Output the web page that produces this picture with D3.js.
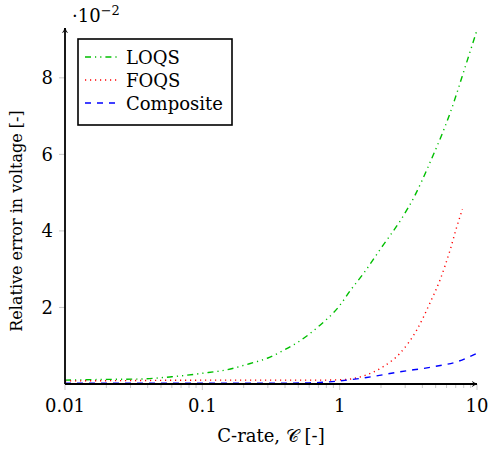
<!DOCTYPE html>
<html>
<head>
<meta charset="utf-8">
<script src="https://cdn.jsdelivr.net/npm/d3@7/dist/d3.min.js"></script>
<style>
  body { margin: 0; background: #fff; }
</style>
</head>
<body>
<div id="chart"></div>
<script>
// values in units of 10^-2
const loqsX = [0.01, 0.02, 0.035, 0.06, 0.1, 0.15, 0.22, 0.3, 0.4, 0.5, 0.7, 1.0, 1.2, 1.5, 2.0, 2.8, 3.5, 4.5, 6.4, 8.4, 10];
const loqsY = [0.10, 0.12, 0.13, 0.19, 0.28, 0.37, 0.53, 0.68, 0.90, 1.10, 1.50, 2.05, 2.45, 2.90, 3.55, 4.30, 4.90, 5.75, 7.10, 8.40, 9.25];
const foqsX = [0.01, 0.03, 0.1, 0.3, 0.7, 1.0, 1.2, 1.57, 2.07, 2.76, 3.64, 4.55, 5.38, 6.37, 7.13, 7.83];
const foqsY = [0.08, 0.09, 0.10, 0.10, 0.10, 0.11, 0.13, 0.24, 0.45, 0.81, 1.41, 2.12, 2.72, 3.50, 4.11, 4.57];
const compX = [0.01, 0.1, 0.3, 0.6, 1.0, 1.57, 2.76, 4.8, 7.13, 10];
const compY = [0.02, 0.02, 0.02, 0.03, 0.08, 0.17, 0.32, 0.45, 0.58, 0.80];

const xTicks = [0.01, 0.1, 1, 10];
const xTickLabels = ['0.01', '0.1', '1', '10'];
const yTicks = [2, 4, 6, 8];
const legendNames = ['LOQS', 'FOQS', 'Composite'];

const width = 496, height = 453;
const svg = d3.select('#chart').append('svg')
  .attr('width', width)
  .attr('height', height)
  .attr('font-family', "'DejaVu Serif', 'Liberation Serif', serif");

const x = d3.scaleLog().domain([0.01, 10]).range([65, 477]);
const y = d3.scaleLinear().domain([0, 9.25]).range([384, 30]);

const series = [
  { name: legendNames[0], xs: loqsX, ys: loqsY, color: '#00bf00', dash: '6,4,1.2,4,1.2,4' },
  { name: legendNames[1], xs: foqsX, ys: foqsY, color: '#ff0000', dash: '1.2,3.8' },
  { name: legendNames[2], xs: compX, ys: compY, color: '#0000ff', dash: '6,6' }
];

// minor + major ticks (grey)
const minor = [];
[0.01, 0.1, 1].forEach(d => { for (let k = 1; k <= 9; k++) minor.push(d * k); });
minor.push(10);
svg.append('g').selectAll('line').data(minor).enter().append('line')
  .attr('x1', d => x(d)).attr('x2', d => x(d))
  .attr('y1', 384).attr('y2', d => xTicks.includes(+d.toPrecision(3)) ? 390 : 388)
  .attr('stroke', '#bbb').attr('stroke-width', 0.8);
svg.append('g').selectAll('line').data(yTicks).enter().append('line')
  .attr('x1', 59).attr('x2', 65)
  .attr('y1', d => y(d)).attr('y2', d => y(d))
  .attr('stroke', '#bbb').attr('stroke-width', 0.8);

// curves
const line = d3.line().x(d => x(d[0])).y(d => y(d[1])).curve(d3.curveMonotoneX);
series.forEach(s => {
  svg.append('path')
    .datum(s.xs.map((v, i) => [v, s.ys[i]]))
    .attr('d', line)
    .attr('fill', 'none')
    .attr('stroke', s.color)
    .attr('stroke-width', 1.4)
    .attr('stroke-dasharray', s.dash);
});

// axes with arrows
const defs = svg.append('defs');
defs.append('marker').attr('id', 'arr')
  .attr('viewBox', '0 0 10 10').attr('refX', 9).attr('refY', 5)
  .attr('markerWidth', 6).attr('markerHeight', 6).attr('orient', 'auto')
  .attr('markerUnits', 'userSpaceOnUse')
  .append('path').attr('d', 'M1,1 Q5,4 9,5 Q5,6 1,9').attr('fill', 'none')
  .attr('stroke', '#000').attr('stroke-width', 1.6);
svg.append('line').attr('x1', 65).attr('x2', 477).attr('y1', 384).attr('y2', 384)
  .attr('stroke', '#000').attr('stroke-width', 1.8).attr('marker-end', 'url(#arr)');
svg.append('line').attr('x1', 65).attr('x2', 65).attr('y1', 384).attr('y2', 28)
  .attr('stroke', '#000').attr('stroke-width', 1.8).attr('marker-end', 'url(#arr)');

// tick labels
svg.append('g').selectAll('text').data(xTicks).enter().append('text')
  .attr('x', d => x(d)).attr('y', 412)
  .attr('text-anchor', 'middle').attr('font-size', 18)
  .text((d, i) => xTickLabels[i]);
svg.append('g').selectAll('text').data(yTicks).enter().append('text')
  .attr('x', 53).attr('y', d => y(d) + 6.5)
  .attr('text-anchor', 'end').attr('font-size', 18)
  .text(d => d);

// scale factor
const sf = svg.append('text').attr('x', 72).attr('y', 22).attr('font-size', 18);
sf.append('tspan').text('\u00b710');
sf.append('tspan').attr('dy', -7).attr('font-size', 13).text('\u22122');

// axis labels
const xl = svg.append('text').attr('x', 271).attr('y', 442)
  .attr('text-anchor', 'middle').attr('font-size', 18);
xl.append('tspan').text('C-rate, ');
xl.append('tspan').text('\ud835\udc9e');
xl.append('tspan').text(' [-]');
svg.append('text')
  .attr('transform', 'translate(22,221) rotate(-90)')
  .attr('text-anchor', 'middle').attr('font-size', 16)
  .text('Relative error in voltage [-]');

// legend
const lg = svg.append('g');
lg.append('rect').attr('x', 78).attr('y', 39).attr('width', 154).attr('height', 86)
  .attr('fill', '#fff').attr('stroke', '#000').attr('stroke-width', 1.6);
series.forEach((s, i) => {
  const ly = 57 + i * 23;
  lg.append('line').attr('x1', 85).attr('x2', 119).attr('y1', ly).attr('y2', ly)
    .attr('stroke', s.color).attr('stroke-width', 1.4).attr('stroke-dasharray', s.dash);
  lg.append('text').attr('x', 126).attr('y', ly + 6.5).attr('font-size', 18).text(s.name);
});
</script>
</body>
</html>
